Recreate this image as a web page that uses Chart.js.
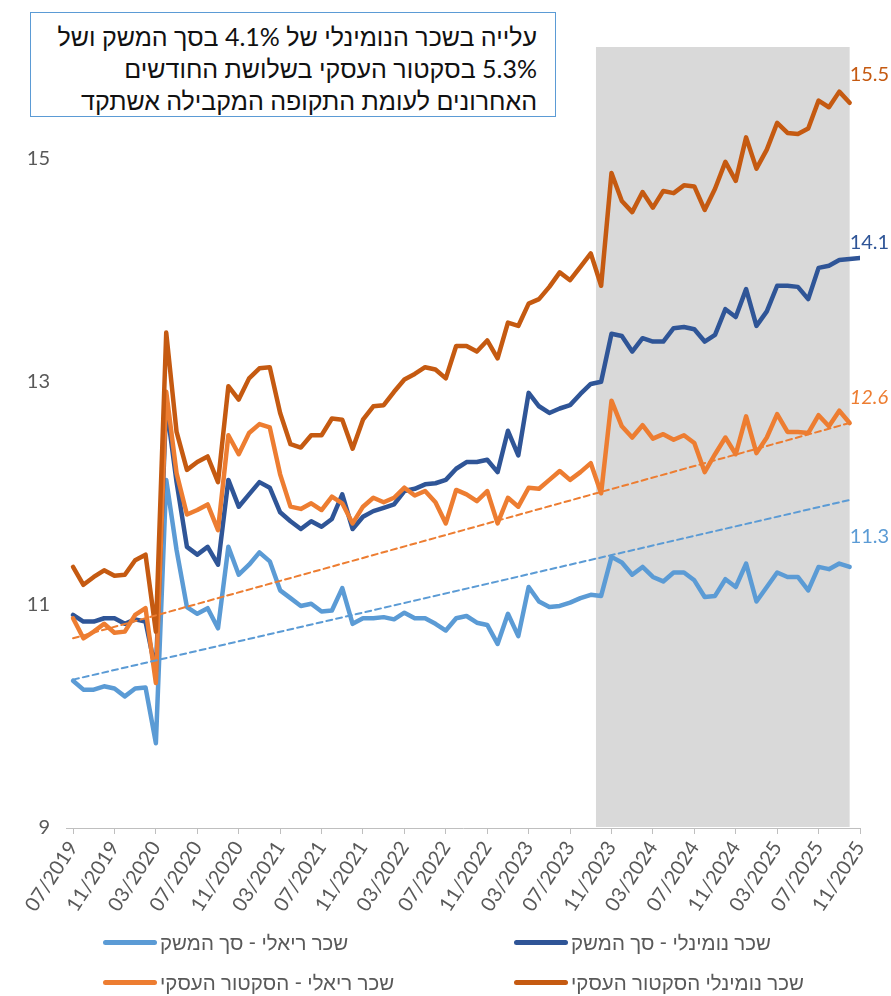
<!DOCTYPE html>
<html lang="he">
<head>
<meta charset="utf-8">
<script src="https://cdn.jsdelivr.net/npm/chart.js@4.4.1/dist/chart.umd.min.js"></script>
<style>
  html, body { margin: 0; padding: 0; background: #fff; }
  #wrap { position: relative; width: 891px; height: 996px; overflow: hidden; }
  #myChart { position: absolute; left: 0; top: 0; }
  #note {
    position: absolute; left: 30px; top: 12px; width: 526px; height: 105px;
    box-sizing: border-box; border: 1.5px solid #5B9BD5; background: #fff;
    direction: rtl; text-align: right; padding: 7px 18px 0 0;
    font: 25px 'Lato', 'Liberation Sans', sans-serif; line-height: 32px; color: #111;
  }
  .item { position: absolute; display: flex; align-items: center; height: 26px;
    font: 20.5px 'Lato', 'Liberation Sans', sans-serif; color: #595959; white-space: nowrap; }
  .swatch { width: 54px; height: 5px; border-radius: 3px; margin-right: 3px; }
</style>
</head>
<body>
<div id="wrap">
  <canvas id="myChart" width="891" height="996"></canvas>
  <div id="note">עלייה בשכר הנומינלי של 4.1% בסך המשק ושל<br>5.3% בסקטור העסקי בשלושת החודשים<br>האחרונים לעומת התקופה המקבילה אשתקד</div>
  <div id="legend"></div>
</div>
<script>
// months run 07/2019 .. 11/2025, one point per month
const tickLabels = ['07/2019','11/2019','03/2020','07/2020','11/2020','03/2021','07/2021','11/2021',
  '03/2022','07/2022','11/2022','03/2023','07/2023','11/2023','03/2024','07/2024','11/2024',
  '03/2025','07/2025','11/2025'];

// real wage - whole economy (07/2019 .. 10/2025)
const realEconomy = [10.32,10.24,10.24,10.27,10.25,10.18,10.25,10.26,9.76,12.12,
  11.49,10.98,10.92,10.97,10.79,11.52,11.27,11.36,11.47,11.39,
  11.13,11.06,10.99,11.01,10.94,10.95,11.15,10.83,10.88,10.88,
  10.89,10.87,10.93,10.88,10.88,10.83,10.77,10.88,10.90,10.84,
  10.82,10.65,10.92,10.72,11.16,11.03,10.98,10.99,11.02,11.06,
  11.09,11.08,11.43,11.38,11.27,11.34,11.25,11.21,11.29,11.29,
  11.22,11.07,11.08,11.23,11.16,11.37,11.03,11.16,11.29,11.25,
  11.25,11.13,11.34,11.32,11.37,11.34];

// nominal wage - whole economy (07/2019 .. 11/2025)
const nominalEconomy = [10.91,10.85,10.85,10.88,10.88,10.83,10.87,10.85,10.40,12.80,
  12.10,11.52,11.45,11.52,11.36,12.12,11.88,11.99,12.10,12.05,
  11.83,11.75,11.68,11.75,11.70,11.77,11.99,11.68,11.79,11.84,
  11.87,11.90,12.02,12.04,12.08,12.09,12.12,12.22,12.28,12.28,
  12.30,12.19,12.56,12.34,12.90,12.78,12.72,12.76,12.79,12.89,
  12.98,13.00,13.43,13.41,13.27,13.39,13.36,13.36,13.48,13.49,
  13.47,13.36,13.42,13.65,13.58,13.83,13.50,13.63,13.86,13.86,
  13.85,13.74,14.02,14.04,14.09,14.10,14.11];

// real wage - business sector
const realBusiness = [10.88,10.70,10.76,10.83,10.75,10.76,10.91,10.97,10.30,12.91,
  12.18,11.81,11.85,11.90,11.67,12.52,12.35,12.54,12.62,12.59,
  12.17,11.88,11.86,11.91,11.85,11.97,11.91,11.73,11.88,11.96,
  11.92,11.96,12.05,11.98,12.02,11.92,11.73,12.03,11.99,11.93,
  12.02,11.73,11.96,11.88,12.05,12.04,12.12,12.20,12.12,12.19,
  12.27,12.00,12.83,12.60,12.50,12.61,12.49,12.53,12.48,12.52,
  12.45,12.19,12.35,12.50,12.35,12.69,12.36,12.50,12.71,12.55,
  12.55,12.54,12.70,12.60,12.74,12.63];

// nominal wage - business sector
const nominalBusiness = [11.34,11.18,11.25,11.31,11.26,11.27,11.40,11.45,10.76,13.44,
  12.55,12.21,12.28,12.33,12.10,12.96,12.84,13.03,13.12,13.13,
  12.72,12.44,12.41,12.52,12.52,12.67,12.66,12.40,12.66,12.78,
  12.79,12.91,13.02,13.07,13.13,13.11,13.03,13.32,13.32,13.27,
  13.37,13.21,13.53,13.50,13.70,13.74,13.85,13.98,13.91,14.03,
  14.15,13.86,14.87,14.62,14.52,14.70,14.56,14.71,14.69,14.76,
  14.75,14.54,14.73,14.97,14.80,15.19,14.91,15.08,15.32,15.23,
  15.22,15.27,15.52,15.46,15.60,15.50];

// linear trend lines (start / end month index and value)
const trendRealEconomy = [[0, 10.33], [75, 11.94]];
const trendRealBusiness = [[0, 10.70], [75, 12.63]];

// shaded period (month index)
const shadeFrom = 50.5;
const shadeTo = 75;

const endLabels = ['11.3', '14.1', '12.6', '15.5'];

const colors = {
    lightBlue: '#5B9BD5',
    darkBlue: '#2F5597',
    orange: '#ED7D31',
    darkOrange: '#C55A11'
};

function toXY(arr) {
    return arr.map((v, i) => ({x: i, y: v}));
}

const shadePlugin = {
    id: 'shade',
    beforeDatasetsDraw(chart) {
        const {ctx, chartArea, scales} = chart;
        const x1 = scales.x.getPixelForValue(shadeFrom);
        const x2 = scales.x.getPixelForValue(shadeTo);
        ctx.save();
        ctx.fillStyle = '#D9D9D9';
        ctx.fillRect(x1, chartArea.top, x2 - x1, chartArea.bottom - chartArea.top - 1);
        ctx.restore();
    }
};

// value labels at the end of the lines
const endLabelPlugin = {
    id: 'endLabels',
    afterDatasetsDraw(chart) {
        const {ctx, scales} = chart;
        const series = [
            {data: realEconomy, color: colors.lightBlue, dy: -30, italic: false},
            {data: nominalEconomy, color: colors.darkBlue, dy: -15, italic: false},
            {data: realBusiness, color: colors.orange, dy: -25, italic: true},
            {data: nominalBusiness, color: colors.darkOrange, dy: -28, italic: false}
        ];
        ctx.save();
        ctx.textAlign = 'left';
        ctx.textBaseline = 'middle';
        series.forEach((s, i) => {
            const last = s.data[s.data.length - 1];
            const x = scales.x.getPixelForValue(75);
            const y = scales.y.getPixelForValue(last) + s.dy;
            ctx.font = (s.italic ? 'italic ' : '') + '20px Lato, "Liberation Sans", sans-serif';
            ctx.fillStyle = s.color;
            ctx.fillText(endLabels[i], x, y);
        });
        ctx.restore();
    }
};

const ctx = document.getElementById('myChart').getContext('2d');

const myChart = new Chart(ctx, {
    type: 'line',
    data: {
        datasets: [
            {
                label: 'trend real business',
                data: trendRealBusiness.map(p => ({x: p[0], y: p[1]})),
                borderColor: colors.orange,
                borderWidth: 2,
                borderDash: [6, 4],
                pointRadius: 0
            },
            {
                label: 'trend real economy',
                data: trendRealEconomy.map(p => ({x: p[0], y: p[1]})),
                borderColor: colors.lightBlue,
                borderWidth: 2,
                borderDash: [6, 4],
                pointRadius: 0
            },
            {
                label: 'שכר נומינלי הסקטור העסקי',
                data: toXY(nominalBusiness),
                borderColor: colors.darkOrange,
                borderWidth: 4.5,
                pointRadius: 0
            },
            {
                label: 'שכר ריאלי - הסקטור העסקי',
                data: toXY(realBusiness),
                borderColor: colors.orange,
                borderWidth: 4.5,
                pointRadius: 0
            },
            {
                label: 'שכר נומינלי - סך המשק',
                data: toXY(nominalEconomy),
                borderColor: colors.darkBlue,
                borderWidth: 4.5,
                pointRadius: 0
            },
            {
                label: 'שכר ריאלי - סך המשק',
                data: toXY(realEconomy),
                borderColor: colors.lightBlue,
                borderWidth: 4.5,
                pointRadius: 0
            }
        ]
    },
    options: {
        responsive: false,
        animation: false,
        elements: {
            line: {tension: 0, borderCapStyle: 'round', borderJoinStyle: 'round'}
        },
        layout: {padding: {top: 47, right: 31, left: 0, bottom: 0}},
        plugins: {
            legend: {display: false},
            tooltip: {enabled: false}
        },
        scales: {
            x: {
                type: 'linear',
                min: -0.68,
                max: 76,
                afterBuildTicks: (scale) => {
                    scale.ticks = tickLabels.map((t, i) => ({value: i * 4}));
                },
                afterFit: (scale) => { scale.height = 168; },
                ticks: {
                    autoSkip: false,
                    minRotation: 57,
                    maxRotation: 57,
                    color: '#595959',
                    font: {family: 'Lato, "Liberation Sans", sans-serif', size: 20},
                    callback: (v) => tickLabels[v / 4]
                },
                grid: {drawOnChartArea: false, color: '#BFBFBF', tickLength: 6},
                border: {color: '#BFBFBF'}
            },
            y: {
                min: 9,
                max: 16,
                afterBuildTicks: (scale) => {
                    scale.ticks = [9, 11, 13, 15].map(v => ({value: v}));
                },
                afterFit: (scale) => { scale.width = 66; },
                ticks: {
                    padding: 16,
                    color: '#595959',
                    font: {family: 'Lato, "Liberation Sans", sans-serif', size: 20}
                },
                grid: {display: false, drawTicks: false},
                border: {display: false}
            }
        }
    },
    plugins: [shadePlugin, endLabelPlugin]
});

// two-column legend under the chart
const legendPos = [
    {label: 'שכר ריאלי - סך המשק', left: 103, top: 929},
    {label: 'שכר נומינלי - סך המשק', left: 514, top: 929},
    {label: 'שכר ריאלי - הסקטור העסקי', left: 103, top: 969},
    {label: 'שכר נומינלי הסקטור העסקי', left: 514, top: 969}
];
const legendBox = document.getElementById('legend');
legendPos.forEach(p => {
    const ds = myChart.data.datasets.find(d => d.label === p.label);
    const item = document.createElement('div');
    item.className = 'item';
    item.style.left = p.left + 'px';
    item.style.top = p.top + 'px';
    const sw = document.createElement('span');
    sw.className = 'swatch';
    sw.style.background = ds.borderColor;
    const txt = document.createElement('span');
    txt.textContent = ds.label;
    item.appendChild(sw);
    item.appendChild(txt);
    legendBox.appendChild(item);
});
</script>
</body>
</html>
